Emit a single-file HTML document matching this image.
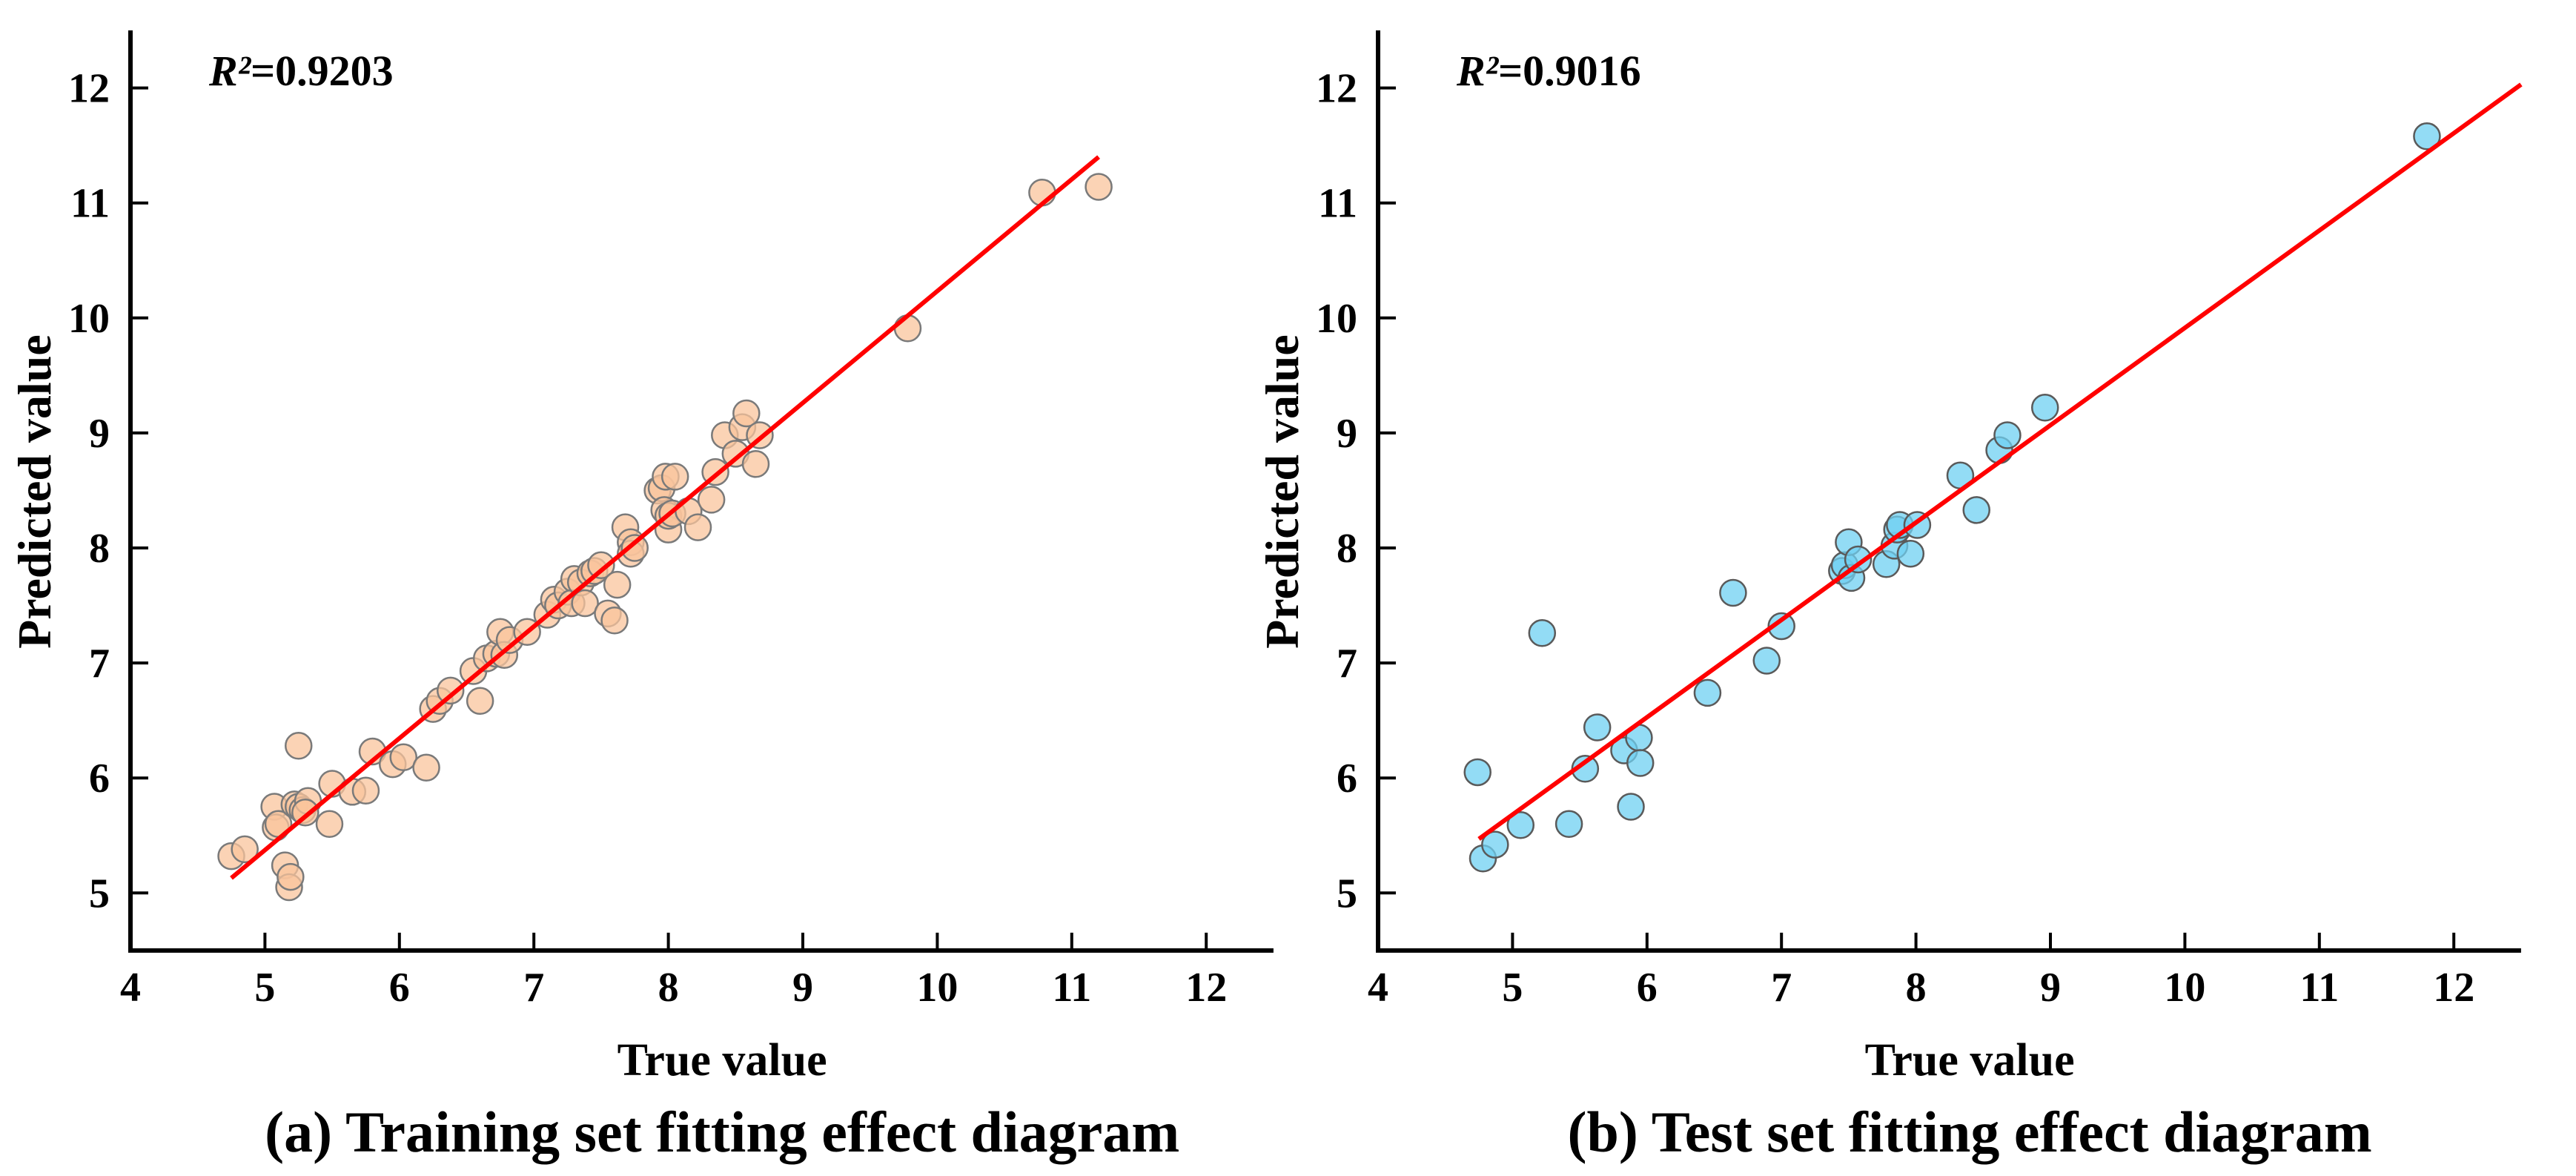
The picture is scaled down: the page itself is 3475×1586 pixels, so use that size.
<!DOCTYPE html>
<html><head><meta charset="utf-8"><style>
html,body{margin:0;padding:0;background:#fff;}
svg{display:block;font-family:"Liberation Serif",serif;font-weight:bold;}
</style></head><body>
<svg id="fig" width="3475" height="1586" viewBox="0 0 3475 1586" xmlns="http://www.w3.org/2000/svg"></svg>
<script>
const ticks = [4,5,6,7,8,9,10,11,12];
const trainX = [4.75,4.85,5.07,5.08,5.1,5.15,5.18,5.19,5.22,5.25,5.25,5.28,5.32,5.3,5.48,5.5,5.65,5.75,5.8,5.95,6.03,6.2,6.25,6.3,6.38,6.55,6.6,6.65,6.72,6.75,6.78,6.82,6.95,7.1,7.15,7.18,7.25,7.3,7.28,7.35,7.38,7.42,7.45,7.5,7.55,7.6,7.62,7.68,7.72,7.72,7.75,7.92,7.95,7.97,7.98,8.0,8.0,8.03,8.05,8.15,8.22,8.32,8.35,8.42,8.5,8.55,8.58,8.65,8.68,9.78,10.78,11.2];
const trainY = [5.32,5.38,5.75,5.57,5.6,5.24,5.05,5.14,5.77,6.28,5.75,5.72,5.8,5.7,5.6,5.95,5.88,5.89,6.23,6.12,6.18,6.09,6.6,6.67,6.76,6.93,6.67,7.04,7.08,7.27,7.07,7.2,7.27,7.42,7.55,7.5,7.62,7.73,7.52,7.7,7.52,7.78,7.8,7.85,7.43,7.37,7.68,8.18,8.05,7.95,8.0,8.5,8.52,8.33,8.62,8.16,8.28,8.3,8.62,8.32,8.18,8.42,8.66,8.98,8.82,9.05,9.17,8.73,8.98,9.91,11.09,11.14];
const trainFit = [[4.75,5.13],[11.2,11.4]];
const testX = [4.74,4.78,4.87,5.06,5.22,5.42,5.54,5.63,5.83,5.88,5.94,5.95,6.45,6.64,6.89,7.0,7.45,7.47,7.5,7.52,7.57,7.78,7.84,7.86,7.88,7.96,8.01,8.33,8.45,8.62,8.68,8.96,11.8];
const testY = [6.05,5.3,5.42,5.59,7.26,5.6,6.08,6.44,6.24,5.75,6.35,6.13,6.74,7.61,7.02,7.32,7.8,7.85,8.05,7.74,7.9,7.86,8.02,8.16,8.2,7.95,8.2,8.63,8.33,8.85,8.98,9.22,11.58];
const testFit = [[4.75,5.47],[12.5,12.03]];

const NS="http://www.w3.org/2000/svg";
const svg=document.getElementById('fig');
function mk(tag,attrs,parent){const e=document.createElementNS(NS,tag);for(const k in attrs)e.setAttribute(k,attrs[k]);(parent||svg).appendChild(e);return e;}

function panel(ox, xs, ys, fit, fill, stroke, r2, caption, key){
  const g=mk('g',{});
  
  
  const px=v=>ox+(v-4)*181.4;
  const py=v=>118.6+(12-v)*155.1;
  const ya=mk('line',{x1:px(4),y1:py(12.5),x2:px(4),y2:py(4.5)+2,stroke:'#000','stroke-width':6},g);
  
  
  const xa=mk('line',{x1:px(4)-3,y1:py(4.5),x2:px(12.5),y2:py(4.5),stroke:'#000','stroke-width':6},g);
  
  
  ticks.forEach(t=>{
    if(t>4){
      const l=mk('line',{x1:px(t),y1:py(4.5),x2:px(t),y2:py(4.5)-24,stroke:'#000','stroke-width':4},g);
      
      
    }
    const tl=mk('text',{x:px(t),y:1350,'text-anchor':'middle','font-size':56},g);
    tl.textContent=t;
    
    
    if(t>=5){
      const l2=mk('line',{x1:px(4),y1:py(t),x2:px(4)+24,y2:py(t),stroke:'#000','stroke-width':4},g);
      
      
      const yl=mk('text',{x:px(4)-28,y:py(t)+19,'text-anchor':'end','font-size':56},g);
      yl.textContent=t;
      
      
    }
  });
  xs.forEach((x,i)=>{
    const c=mk('circle',{cx:px(x),cy:py(ys[i]),r:17.5,fill:fill,'fill-opacity':0.75,stroke:stroke,'stroke-width':2.5},g);
    
    
  });
  const fl=mk('line',{x1:px(fit[0][0]),y1:py(fit[0][1]),x2:px(fit[1][0]),y2:py(fit[1][1]),stroke:'#ff0000','stroke-width':6},g);
  
  
  const rt=mk('text',{x:px(4)+106,y:115,'font-size':58},g);
  rt.innerHTML='<tspan font-style="italic">R²</tspan>='+r2;
  
  
  const yt=mk('text',{x:0,y:0,'text-anchor':'middle','font-size':64,transform:`translate(${px(4)-108},663) rotate(-90)`},g);
  yt.textContent='Predicted value';
  
  
  const xt=mk('text',{x:px(8.4),y:1450,'text-anchor':'middle','font-size':62},g);
  xt.textContent='True value';
  
  
  const cp=mk('text',{x:px(8.4),y:1553,'text-anchor':'middle','font-size':78},g);
  cp.textContent=caption;
  
  
}
panel(176, trainX, trainY, trainFit, '#f9c49c', '#7a7a7a', '0.9203', '(a) Training set fitting effect diagram', 'training');
panel(1859, testX, testY, testFit, '#6fd0f2', '#5a5a5a', '0.9016', '(b) Test set fitting effect diagram', 'test');
</script>
</body></html>
